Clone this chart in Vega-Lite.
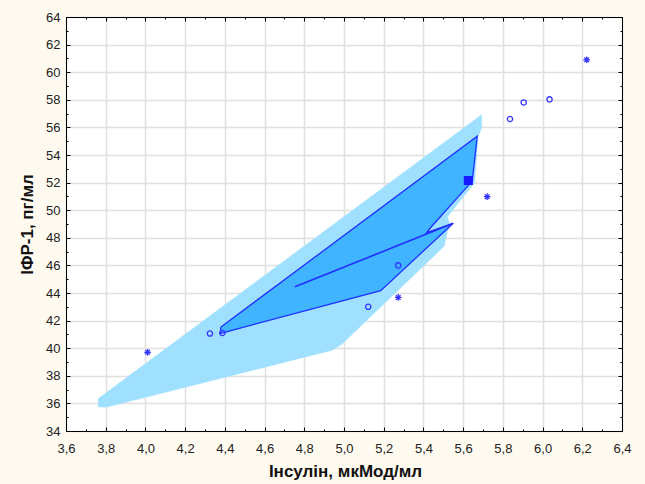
{
  "$schema": "https://vega.github.io/schema/vega-lite/v6.json",
  "width": 556,
  "height": 414,
  "autosize": {"type": "none"},
  "padding": {"left": 66, "top": 17, "right": 23, "bottom": 53},
  "background": "#fffaf0",
  "config": {
    "view": {"stroke": "#000", "strokeWidth": 1, "fill": "#ffffff"},
    "axis": {
      "labelFont": "Liberation Sans",
      "labelFontSize": 13,
      "labelColor": "#222222",
      "titleFont": "Liberation Sans",
      "titleFontSize": 17,
      "titleFontWeight": "bold",
      "titleColor": "#111111",
      "domainColor": "#000000",
      "tickColor": "#000000",
      "gridWidth": 1.5,
      "labelOverlap": false,
      "labelFlush": false,
      "labelBound": false
    }
  },
  "datasets": {
    "light": [
      {"i": 0, "x": 3.763, "y": 35.72},
      {"i": 1, "x": 3.763, "y": 36.35},
      {"i": 2, "x": 5.693, "y": 56.92},
      {"i": 3, "x": 5.693, "y": 55.95},
      {"i": 4, "x": 5.675, "y": 55.3},
      {"i": 5, "x": 5.658, "y": 52.0},
      {"i": 6, "x": 5.52, "y": 49.5},
      {"i": 7, "x": 5.535, "y": 48.9},
      {"i": 8, "x": 5.52, "y": 48.4},
      {"i": 9, "x": 5.505, "y": 47.4},
      {"i": 10, "x": 4.99, "y": 40.3},
      {"i": 11, "x": 4.94, "y": 39.85},
      {"i": 12, "x": 3.8, "y": 35.72}
    ],
    "dark": [
      {"i": 0, "x": 4.379, "y": 41.52},
      {"i": 1, "x": 5.671, "y": 55.36},
      {"i": 2, "x": 5.646, "y": 52.11},
      {"i": 3, "x": 5.466, "y": 49.22},
      {"i": 4, "x": 5.441, "y": 48.82},
      {"i": 5, "x": 5.416, "y": 48.38},
      {"i": 6, "x": 5.55, "y": 49.05},
      {"i": 7, "x": 5.185, "y": 44.17},
      {"i": 8, "x": 4.379, "y": 41.08},
      {"i": 9, "x": 4.379, "y": 41.52}
    ],
    "inner": [
      {"i": 0, "x": 4.753, "y": 44.45},
      {"i": 1, "x": 5.55, "y": 49.05}
    ],
    "pts": [
      {"x": 4.325, "y": 41.06, "kind": "circle"},
      {"x": 4.387, "y": 41.1, "kind": "circle"},
      {"x": 5.122, "y": 43.0, "kind": "circle"},
      {"x": 5.273, "y": 46.0, "kind": "circle"},
      {"x": 5.836, "y": 56.61, "kind": "circle"},
      {"x": 5.905, "y": 57.81, "kind": "circle"},
      {"x": 6.035, "y": 58.03, "kind": "circle"},
      {"x": 4.011, "y": 39.7, "kind": "star"},
      {"x": 5.273, "y": 43.68, "kind": "star"},
      {"x": 5.721, "y": 50.98, "kind": "star"},
      {"x": 6.222, "y": 60.9, "kind": "star"},
      {"x": 5.626, "y": 52.15, "kind": "square"}
    ]
  },
  "resolve": {"axis": {"x": "independent", "y": "independent"}},
  "layer": [
    {
      "data": {"name": "light"},
      "mark": {"type": "line", "fill": "#a0e0ff", "stroke": "#a0e0ff", "strokeWidth": 0.5},
      "encoding": {
        "x": {
          "field": "x", "type": "quantitative",
          "scale": {"domain": [3.6, 6.4], "nice": false, "zero": false},
          "axis": {
            "orient": "bottom",
            "values": [3.6,3.7,3.8,3.9,4.0,4.1,4.2,4.3,4.4,4.5,4.6,4.7,4.8,4.9,5.0,5.1,5.2,5.3,5.4,5.5,5.6,5.7,5.8,5.9,6.0,6.1,6.2,6.3,6.4],
            "labelExpr": "round(datum.value*10)%2==0 ? replace(format(datum.value,'.1f'),'.',',') : ''",
            "grid": true,
            "gridColor": {"condition": {"test": "round(datum.value*10)%2!=0", "value": "transparent"}, "value": "#e0e0e0"},
            "tickSize": {"condition": {"test": "round(datum.value*10)%2!=0", "value": -2}, "value": -4},
            "labelPadding": 15,
            "title": "Інсулін, мкМод/мл",
            "titleX": 279,
            "titleY": 45,
            "titleAlign": "center",
            "titleBaseline": "alphabetic"
          }
        },
        "y": {
          "field": "y", "type": "quantitative",
          "scale": {"domain": [34, 64], "nice": false, "zero": false},
          "axis": {
            "orient": "left",
            "values": [34,35,36,37,38,39,40,41,42,43,44,45,46,47,48,49,50,51,52,53,54,55,56,57,58,59,60,61,62,63,64],
            "labelExpr": "datum.value%2==0 ? datum.value : ''",
            "grid": true,
            "gridColor": {"condition": {"test": "datum.value%2!=0", "value": "transparent"}, "value": "#e0e0e0"},
            "tickSize": {"condition": {"test": "datum.value%2!=0", "value": -2}, "value": -4},
            "labelPadding": 10,
            "title": "ІФР-1, пг/мл",
            "titleX": -34,
            "titleY": 207,
            "titleAngle": 270,
            "titleAlign": "center",
            "titleBaseline": "alphabetic"
          }
        },
        "order": {"field": "i", "type": "quantitative"}
      }
    },
    {
      "data": {"name": "dark"},
      "mark": {"type": "line", "fill": "#40b4ff", "stroke": "#1f2fff", "strokeWidth": 1.3},
      "encoding": {
        "x": {"field": "x", "type": "quantitative", "axis": null},
        "y": {"field": "y", "type": "quantitative", "axis": null},
        "order": {"field": "i", "type": "quantitative"}
      }
    },
    {
      "data": {"name": "inner"},
      "mark": {"type": "line", "stroke": "#1f2fff", "strokeWidth": 1.6},
      "encoding": {
        "x": {"field": "x", "type": "quantitative", "axis": null},
        "y": {"field": "y", "type": "quantitative", "axis": null},
        "order": {"field": "i", "type": "quantitative"}
      }
    },
    {
      "data": {"name": "pts"},
      "mark": {"type": "point", "strokeWidth": 1.3, "opacity": 1},
      "encoding": {
        "x": {
          "field": "x", "type": "quantitative",
          "axis": {
            "orient": "top",
            "values": [3.6,3.7,3.8,3.9,4.0,4.1,4.2,4.3,4.4,4.5,4.6,4.7,4.8,4.9,5.0,5.1,5.2,5.3,5.4,5.5,5.6,5.7,5.8,5.9,6.0,6.1,6.2,6.3,6.4],
            "labels": false, "grid": false, "title": null,
            "tickSize": {"condition": {"test": "round(datum.value*10)%2!=0", "value": -2}, "value": -4}
          }
        },
        "y": {
          "field": "y", "type": "quantitative",
          "axis": {
            "orient": "right",
            "values": [34,35,36,37,38,39,40,41,42,43,44,45,46,47,48,49,50,51,52,53,54,55,56,57,58,59,60,61,62,63,64],
            "labels": false, "grid": false, "title": null,
            "tickSize": {"condition": {"test": "datum.value%2!=0", "value": -2}, "value": -4}
          }
        },
        "shape": {
          "field": "kind", "type": "nominal", "legend": null,
          "scale": {"domain": ["circle", "star", "square"], "range": ["circle", "M0,-1L0,1M-1,0L1,0M-0.7,-0.7L0.7,0.7M-0.7,0.7L0.7,-0.7", "square"]}
        },
        "size": {
          "field": "kind", "type": "nominal", "legend": null,
          "scale": {"domain": ["circle", "star", "square"], "range": [28, 60, 50]}
        },
        "fill": {
          "field": "kind", "type": "nominal", "legend": null,
          "scale": {"domain": ["circle", "star", "square"], "range": ["transparent", "transparent", "#1a1aff"]}
        },
        "stroke": {
          "field": "kind", "type": "nominal", "legend": null,
          "scale": {"domain": ["circle", "star", "square"], "range": ["#3535ff", "#3535ff", "#1a1aff"]}
        }
      }
    }
  ]
}
